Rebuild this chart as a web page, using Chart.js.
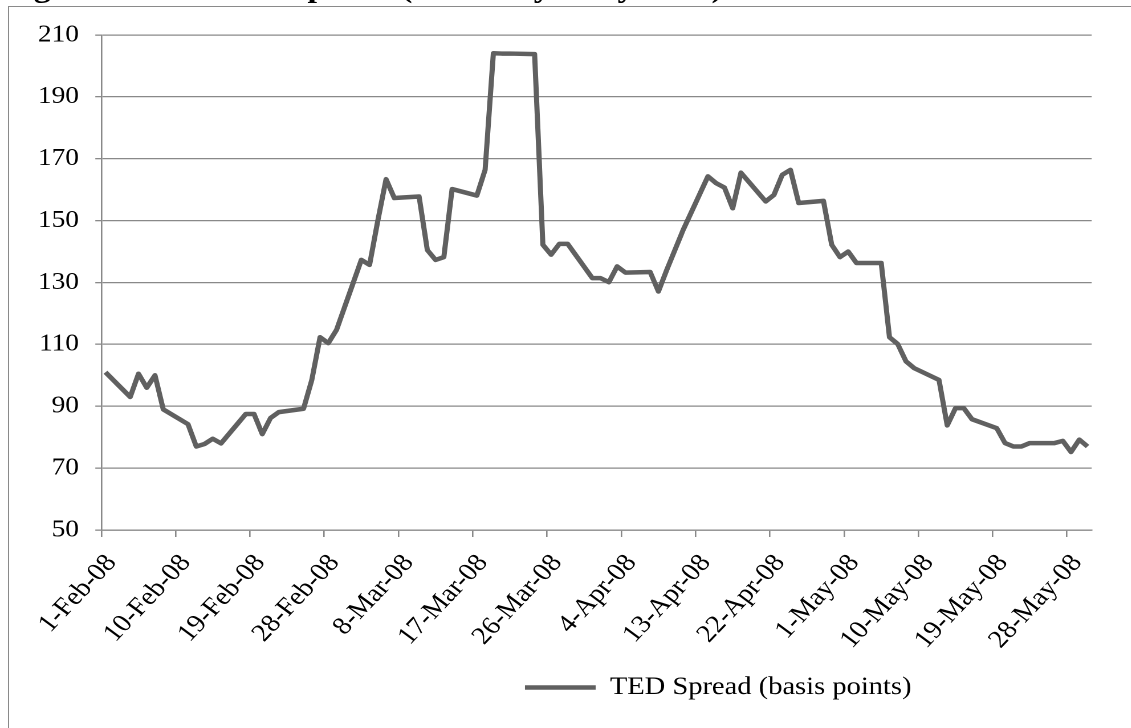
<!DOCTYPE html>
<html>
<head>
<meta charset="utf-8">
<script src="https://cdn.jsdelivr.net/npm/chart.js@4.4.1/dist/chart.umd.min.js"></script>
<style>
  html, body { margin: 0; padding: 0; background: #fff; overflow: hidden; width: 1131px; height: 728px; }
  #frame { position: absolute; left: 8px; top: 6px; width: 2000px; height: 2000px;
           border-left: 1.5px solid #8a8a8a; border-top: 1.5px solid #8a8a8a; }
  /* the figure is laid out in a narrower box and widened horizontally */
  #stage { position: absolute; left: 0; top: 0; width: 1260px; height: 728px;
           transform: scaleX(1.14); transform-origin: 0 0; }
  #title { position: absolute; left: 3px; top: -28px; white-space: nowrap; color: #000;
           font: bold 30px/30px "Liberation Serif", "Times New Roman", serif; }
  #chartBox { position: absolute; left: 0; top: 0; width: 1260px; height: 728px; }
</style>
</head>
<body>
<div id="frame"></div>
<div id="stage">
  <div id="title">Figure 3: The TED Spread (February–May 2008)</div>
  <div id="chartBox"><canvas id="c"></canvas></div>
</div>
<script>
// Daily TED spread, business days, February to May 2008
const seriesName = 'TED Spread (basis points)';

const dates = [
  '2008-02-01', '2008-02-04', '2008-02-05', '2008-02-06', '2008-02-07', '2008-02-08',
  '2008-02-11', '2008-02-12', '2008-02-13', '2008-02-14', '2008-02-15',
  '2008-02-18', '2008-02-19', '2008-02-20', '2008-02-21', '2008-02-22',
  '2008-02-25', '2008-02-26', '2008-02-27', '2008-02-28', '2008-02-29',
  '2008-03-03', '2008-03-04', '2008-03-05', '2008-03-06', '2008-03-07',
  '2008-03-10', '2008-03-11', '2008-03-12', '2008-03-13', '2008-03-14',
  '2008-03-17', '2008-03-18', '2008-03-19', '2008-03-20', '2008-03-21',
  '2008-03-24', '2008-03-25', '2008-03-26', '2008-03-27', '2008-03-28',
  '2008-03-31', '2008-04-01', '2008-04-02', '2008-04-03', '2008-04-04',
  '2008-04-07', '2008-04-08', '2008-04-09', '2008-04-10', '2008-04-11',
  '2008-04-14', '2008-04-15', '2008-04-16', '2008-04-17', '2008-04-18',
  '2008-04-21', '2008-04-22', '2008-04-23', '2008-04-24', '2008-04-25',
  '2008-04-28', '2008-04-29', '2008-04-30', '2008-05-01', '2008-05-02',
  '2008-05-05', '2008-05-06', '2008-05-07', '2008-05-08', '2008-05-09',
  '2008-05-12', '2008-05-13', '2008-05-14', '2008-05-15', '2008-05-16',
  '2008-05-19', '2008-05-20', '2008-05-21', '2008-05-22', '2008-05-23',
  '2008-05-26', '2008-05-27', '2008-05-28', '2008-05-29', '2008-05-30'
];

const tedSpread = [
  101.0, 93.0, 100.5, 96.0, 100.0, 89.0,
  84.2, 77.0, 77.8, 79.5, 78.0,
  87.5, 87.5, 81.0, 86.2, 88.1,
  89.2, 98.5, 112.3, 110.4, 114.7,
  137.3, 135.7, 150.0, 163.4, 157.3,
  157.8, 140.5, 137.3, 138.2, 160.2,
  158.1, 166.4, 204.1, 204.0, 204.0,
  203.8, 142.2, 139.0, 142.5, 142.5,
  131.4, 131.4, 130.1, 135.2, 133.2,
  133.4, 127.1, 134.0, 140.5, 147.0,
  164.3, 162.1, 160.7, 154.0, 165.5,
  156.2, 158.3, 164.8, 166.4, 155.7,
  156.4, 142.2, 138.2, 140.0, 136.3,
  136.3, 112.3, 110.1, 104.5, 102.3,
  98.5, 83.8, 89.4, 89.4, 85.8,
  82.9, 78.1, 77.0, 77.0, 78.1,
  78.1, 78.8, 75.2, 79.2, 77.0
];

const tickLabels = [
  '1-Feb-08', '10-Feb-08', '19-Feb-08', '28-Feb-08', '8-Mar-08', '17-Mar-08', '26-Mar-08',
  '4-Apr-08', '13-Apr-08', '22-Apr-08', '1-May-08', '10-May-08', '19-May-08', '28-May-08'
];

const yTicks = [50, 70, 90, 110, 130, 150, 170, 190, 210];

// ---- date helpers: x is measured in days from the first date ----
const MONTHS = { Jan: 0, Feb: 1, Mar: 2, Apr: 3, May: 4, Jun: 5, Jul: 6, Aug: 7, Sep: 8, Oct: 9, Nov: 10, Dec: 11 };
const DAY_MS = 86400000;
const [y0, m0, d0] = dates[0].split('-').map(Number);
const originMs = Date.UTC(y0, m0 - 1, d0);
function isoToDay(s) {
  const [y, m, d] = s.split('-').map(Number);
  return (Date.UTC(y, m - 1, d) - originMs) / DAY_MS;
}
function labelToDay(s) {
  const [d, mon, yy] = s.split('-');
  return (Date.UTC(2000 + Number(yy), MONTHS[mon], Number(d)) - originMs) / DAY_MS;
}

// each day occupies one unit; a value sits in the middle of its day
const points = dates.map((d, i) => ({ x: isoToDay(d) + 0.5, y: tedSpread[i] }));
const tickDays = tickLabels.map(labelToDay);
const xMin = isoToDay(dates[0]);
const xMax = isoToDay(dates[dates.length - 1]) + 1;

const GRID = '#898989';
const SERIF = '"Liberation Serif", "Times New Roman", serif';

new Chart(document.getElementById('c'), {
  type: 'line',
  data: {
    datasets: [{
      label: seriesName,
      data: points,
      borderColor: '#606060',
      backgroundColor: '#606060',
      borderWidth: 4.5,
      borderJoinStyle: 'round',
      pointRadius: 0,
      pointHoverRadius: 0,
      tension: 0,
      fill: false
    }]
  },
  options: {
    responsive: true,
    maintainAspectRatio: false,
    animation: false,
    devicePixelRatio: 2,
    layout: { padding: { top: 35, left: 0, right: 0, bottom: 18 } },
    plugins: {
      legend: {
        position: 'bottom',
        labels: {
          usePointStyle: true,
          pointStyle: 'line',
          pointStyleWidth: 62,
          color: '#000',
          padding: 10,
          font: { family: SERIF, size: 25 }
        }
      },
      tooltip: { enabled: false },
      title: { display: false }
    },
    scales: {
      x: {
        type: 'linear',
        min: xMin,
        max: xMax,
        afterBuildTicks: (s) => { s.ticks = tickDays.map(v => ({ value: v })); },
        afterFit: (s) => { s.height = 135; },
        grid: { drawOnChartArea: false, drawTicks: true, tickLength: 7, color: GRID, lineWidth: 1.3 },
        border: { display: true, color: GRID, width: 1.3 },
        ticks: {
          autoSkip: false,
          minRotation: 50,
          maxRotation: 50,
          padding: 12,
          labelOffset: 9,
          color: '#000',
          font: { family: SERIF, size: 25 },
          callback: (v, i) => tickLabels[i]
        }
      },
      y: {
        min: yTicks[0],
        max: yTicks[yTicks.length - 1],
        afterBuildTicks: (s) => { s.ticks = yTicks.map(v => ({ value: v })); },
        afterFit: (s) => { s.width = 88.9; },
        grid: { color: GRID, lineWidth: 1.3, tickLength: 5.3, drawTicks: true },
        border: { display: true, color: GRID, width: 1.3 },
        ticks: { padding: 14.3, color: '#000', font: { family: SERIF, size: 24 } }
      },
      // empty band to the right of the plot, where the frame continues
      side: {
        type: 'linear',
        position: 'right',
        display: true,
        afterFit: (s) => { s.width = 302.4; },
        grid: { display: false, drawTicks: false },
        border: { display: false },
        ticks: { display: false }
      }
    }
  }
});
</script>
</body>
</html>
